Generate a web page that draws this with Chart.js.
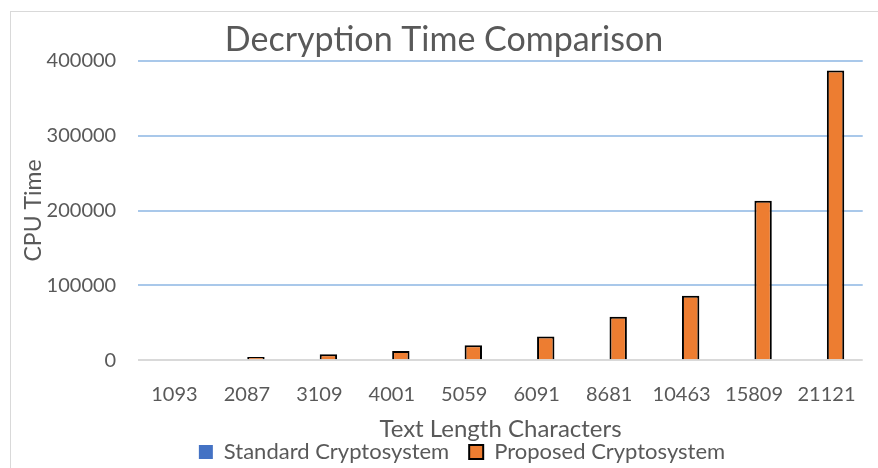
<!DOCTYPE html>
<html>
<head>
<meta charset="utf-8">
<script src="https://cdn.jsdelivr.net/npm/chart.js@4"></script>
<style>
  body { margin: 0; background: #fff; }
  #wrap { position: relative; width: 878px; height: 468px; overflow: hidden; }
  #frame { position: absolute; left: 10px; top: 11px; width: 900px; height: 500px; border: 1px solid #d9d9d9; }
  #myChart { position: absolute; left: 0; top: 0; }
</style>
</head>
<body>
<div id="wrap">
  <div id="frame"></div>
  <canvas id="myChart" width="878" height="468"></canvas>
</div>
<script>
const textLengths = ["1093", "2087", "3109", "4001", "5059", "6091", "8681", "10463", "15809", "21121"];
// standard bars are too small to see in the picture
const standardTimes = [0, 0, 0, 0, 0, 0, 0, 0, 0, 0];
const proposedTimes = [1200, 4200, 8000, 12400, 20000, 31500, 58000, 86000, 213000, 387000];
const yTicks = [0, 100000, 200000, 300000, 400000];

const ctx = document.getElementById("myChart").getContext("2d");
const grey = "#595959";
const font = "Lato, 'Open Sans', sans-serif";

// nudge the legend to the right, like the original
const legendShift = {
  id: "legendShift",
  afterLayout(chart) {
    chart.legend.left += 18;
    chart.legend.right += 18;
  },
};

new Chart(ctx, {
  type: "bar",
  data: {
    labels: textLengths,
    datasets: [
      {
        label: "Standard Cryptosystem",
        data: standardTimes,
        backgroundColor: "#4472C4",
        borderWidth: 0,
        categoryPercentage: 0.5,
        barPercentage: 0.96,
      },
      {
        label: "Proposed Cryptosystem",
        data: proposedTimes,
        backgroundColor: "#ED7D31",
        borderColor: "#000000",
        borderWidth: 2,
        categoryPercentage: 0.5,
        barPercentage: 0.96,
      },
    ],
  },
  options: {
    responsive: false,
    animation: false,
    layout: { padding: { left: 20, right: 10, top: 20, bottom: -5 } },
    plugins: {
      title: {
        display: true,
        text: "Decryption Time Comparison",
        color: grey,
        font: { family: font, size: 34, weight: "normal" },
        padding: { top: 0, bottom: 0 },
      },
      legend: {
        position: "bottom",
        labels: {
          color: grey,
          font: { family: font, size: 22 },
          boxWidth: 14,
          boxHeight: 14,
          padding: 20,
        },
      },
      tooltip: { enabled: false },
    },
    scales: {
      x: {
        grid: { display: false, drawTicks: false },
        border: { display: false },
        ticks: { color: grey, font: { family: font, size: 20 }, padding: 22 },
        title: {
          display: true,
          text: "Text Length Characters",
          color: grey,
          font: { family: font, size: 24 },
          padding: { top: -13, bottom: -23 },
        },
      },
      y: {
        min: 0,
        max: 400000,
        afterBuildTicks: (axis) => {
          axis.ticks = yTicks.map((v) => ({ value: v }));
        },
        grid: {
          drawTicks: false,
          color: (c) => (c.tick && c.tick.value === 0 ? "#d9d9d9" : "#a9c8ea"),
          lineWidth: 2,
        },
        border: { display: false },
        ticks: {
          color: grey,
          font: { family: font, size: 20 },
          padding: 22,
          callback: (v) => String(v),
        },
        title: {
          display: true,
          text: "CPU Time",
          color: grey,
          font: { family: font, size: 23 },
          padding: { top: 0, bottom: -23 },
        },
      },
    },
  },
  plugins: [legendShift],
});
</script>
</body>
</html>
